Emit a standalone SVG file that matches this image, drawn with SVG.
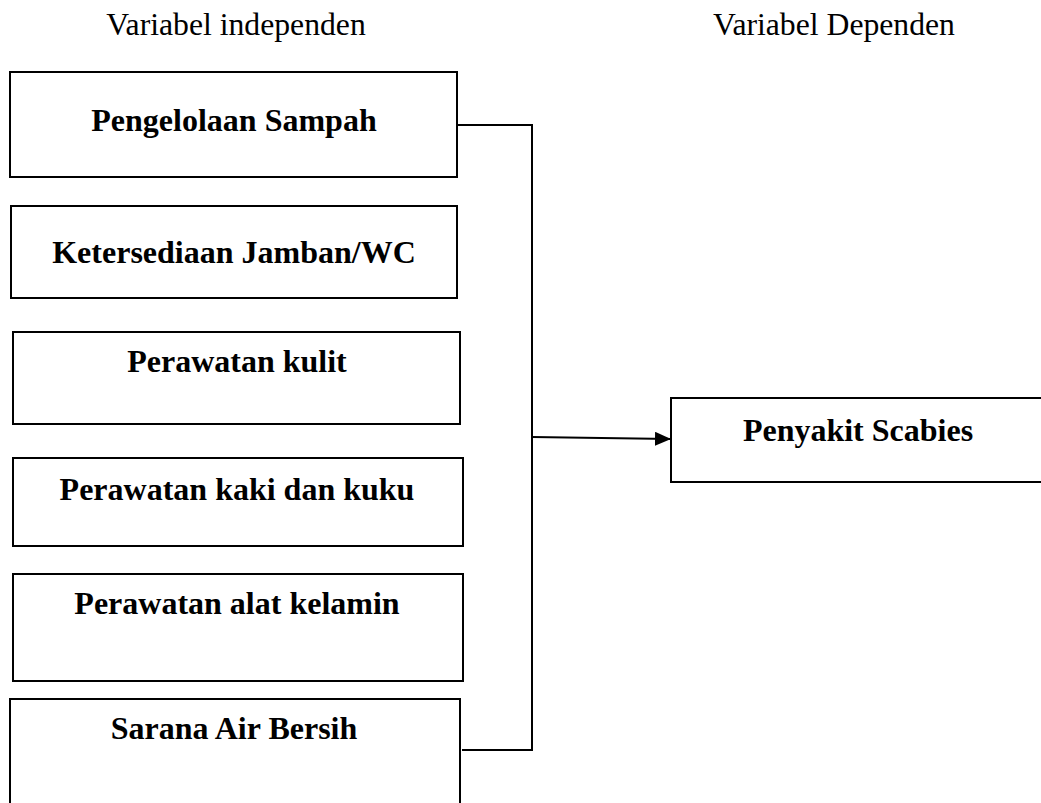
<svg xmlns="http://www.w3.org/2000/svg" width="1041" height="803" viewBox="0 0 1041 803">
<style>
.box{fill:#fff;stroke:#000;stroke-width:2}
.lbl{font-family:"Liberation Serif","Times New Roman",serif;font-weight:bold;font-size:32px;fill:#000;text-anchor:middle}
.hdr{font-family:"Liberation Serif","Times New Roman",serif;font-size:31.7px;fill:#000;text-anchor:middle}
.con{fill:none;stroke:#000;stroke-width:2}
</style>
<defs>
<marker id="arr" markerWidth="16" markerHeight="14" refX="16" refY="7" orient="auto" markerUnits="userSpaceOnUse">
<path d="M0,0 L16,7 L0,14 Z" fill="#000"/>
</marker>
</defs>
<rect width="1041" height="803" fill="#fff"/>
<g id="headers">
<text class="hdr" x="236" y="35">Variabel independen</text>
<text class="hdr" x="834" y="35">Variabel Dependen</text>
</g>
<g id="n1"><rect class="box" x="10" y="72" width="447" height="105"/><text class="lbl" x="234" y="131">Pengelolaan Sampah</text></g>
<g id="n2"><rect class="box" x="11" y="206" width="446" height="92"/><text class="lbl" x="234" y="263">Ketersediaan Jamban/WC</text></g>
<g id="n3"><rect class="box" x="13" y="332" width="447" height="92"/><text class="lbl" x="237" y="372">Perawatan kulit</text></g>
<g id="n4"><rect class="box" x="13" y="458" width="450" height="88"/><text class="lbl" x="237" y="500">Perawatan kaki dan kuku</text></g>
<g id="n5"><rect class="box" x="13" y="574" width="450" height="107"/><text class="lbl" x="237" y="614">Perawatan alat kelamin</text></g>
<g id="n6"><rect class="box" x="10" y="699" width="450" height="130"/><text class="lbl" x="234" y="739">Sarana Air Bersih</text></g>
<g id="n7"><rect class="box" x="671" y="398" width="400" height="84"/><text class="lbl" x="858" y="441">Penyakit Scabies</text></g>
<g id="connectors">
<polyline class="con" points="457,125 532,125 532,750 462,750"/>
<line class="con" x1="532" y1="437" x2="671" y2="439" marker-end="url(#arr)"/>
</g>
</svg>
